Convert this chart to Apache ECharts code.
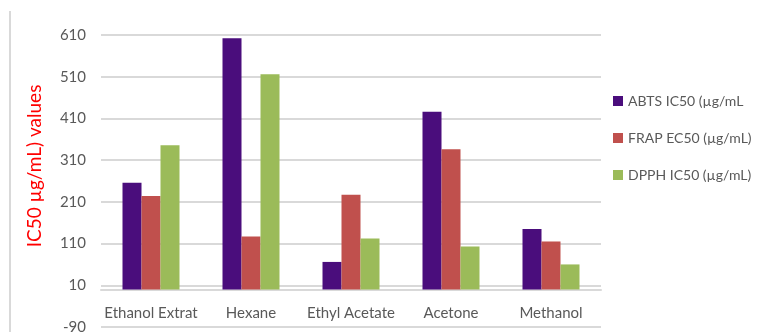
<!DOCTYPE html>
<html>
<head>
<meta charset="utf-8">
<script src="https://cdn.jsdelivr.net/npm/echarts@6/dist/echarts.min.js"></script>
<style>
  html, body { margin: 0; padding: 0; background: #ffffff; }
  #chart { width: 758px; height: 332px; }
</style>
</head>
<body>
<div id="chart"></div>
<script>
// Extract solvents along the category axis
const categories = ['Ethanol Extrat', 'Hexane', 'Ethyl Acetate', 'Acetone', 'Methanol'];

// Assay results per extract (µg/mL)
const abtsIC50 = [256, 602, 66, 426, 145];
const frapEC50 = [224, 127, 227, 336, 115];
const dpphIC50 = [346, 516, 122, 103, 60];

const seriesNames = ['ABTS IC50 (µg/mL', 'FRAP EC50 (µg/mL)', 'DPPH IC50 (µg/mL)'];
const seriesColors = ['#4a0d7c', '#c0504d', '#9bbb59'];

// Value axis range and step
const yMin = -90;
const yMax = 610;
const yStep = 100;

const axisTitle = 'IC50 µg/mL) values';

const FONT = 'Lato, "Open Sans", sans-serif';
const TEXT_GREY = '#595959';
const GRID_GREY = '#d9d9d9';

const chart = echarts.init(document.getElementById('chart'), null, { renderer: 'canvas' });

const values = [abtsIC50, frapEC50, dpphIC50];

chart.setOption({
  animation: false,
  backgroundColor: '#ffffff',
  grid: { left: 101, right: 157, top: 35, bottom: 5, outerBoundsMode: 'none', containLabel: false },
  legend: {
    orient: 'vertical',
    left: 608,
    top: 87,
    padding: 5,
    icon: 'rect',
    itemWidth: 10,
    itemHeight: 10,
    itemGap: 19,
    textStyle: { color: TEXT_GREY, fontFamily: FONT, fontSize: 14, lineHeight: 18 },
    data: seriesNames
  },
  xAxis: {
    type: 'category',
    data: categories,
    axisLine: { onZero: true, lineStyle: { color: GRID_GREY, width: 2 } },
    axisTick: { show: false },
    // category names sit between the zero line and the bottom gridline
    axisLabel: { interval: 0, color: TEXT_GREY, fontFamily: FONT, fontSize: 15, margin: -21 }
  },
  yAxis: {
    type: 'value',
    min: yMin,
    max: yMax,
    interval: yStep,
    axisLine: { show: false },
    axisTick: { show: false },
    axisLabel: { color: TEXT_GREY, fontFamily: FONT, fontSize: 15, margin: 15 },
    splitLine: { lineStyle: { color: GRID_GREY, width: 2 } }
  },
  graphic: [
    {
      type: 'line',
      shape: { x1: 10, y1: 11, x2: 10, y2: 332 },
      style: { stroke: GRID_GREY, lineWidth: 2 },
      silent: true
    },
    {
      type: 'text',
      x: 35,
      y: 166,
      rotation: Math.PI / 2,
      style: {
        text: axisTitle,
        fill: '#ff0000',
        font: '19px ' + FONT,
        textAlign: 'center',
        textVerticalAlign: 'middle'
      },
      silent: true
    }
  ],
  series: seriesNames.map((name, i) => ({
    name: name,
    type: 'bar',
    data: values[i],
    barWidth: 19,
    barGap: '0%',
    itemStyle: { color: seriesColors[i] }
  }))
});
</script>
</body>
</html>
